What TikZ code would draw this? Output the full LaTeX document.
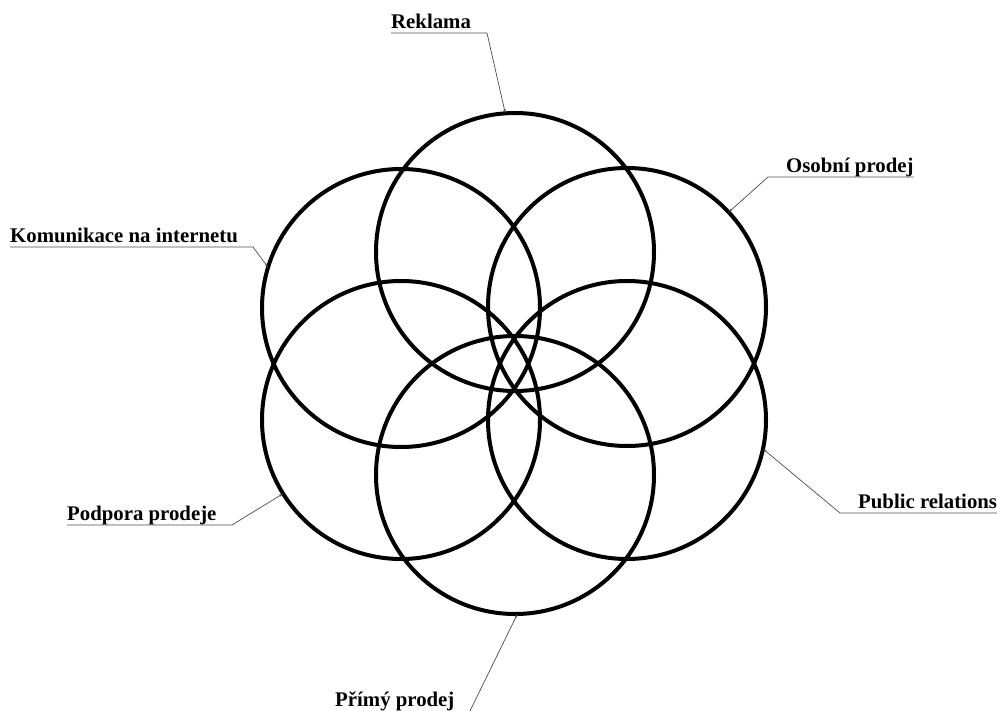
\documentclass[tikz,border=0pt]{standalone}
\usepackage{fontspec}
\setmainfont{Liberation Serif}
\usepackage{tikz}
\usetikzlibrary{arrows.meta, calc}

\begin{document}
\begin{tikzpicture}[x=1pt, y=-1pt,
  ring/.style={circle, draw=black, line width=4pt, minimum size=278pt, inner sep=0pt, outer sep=0pt},
  lbl/.style={font=\fontsize{20.8}{24}\selectfont\bfseries, inner sep=0pt},
  leader/.style={draw=black!70, line width=0.7pt, -{Stealth[length=4pt,width=2.4pt]}}]
  \useasboundingbox (0,0) rectangle (997,711);

  % Six circles
  \node[ring] (cR) at (515,252) {};
  \node[ring] (cO) at (627,307) {};
  \node[ring] (cP) at (627,420) {};
  \node[ring] (cM) at (515,475) {};
  \node[ring] (cS) at (401,420) {};
  \node[ring] (cK) at (401,308) {};

  % Labels
  \node[lbl, anchor=base west] (lR) at (391,29) {Reklama};
  \node[lbl, anchor=base west] (lO) at (786,173) {Osobní prodej};
  \node[lbl, anchor=base west] (lP) at (858,508) {Public relations};
  \node[lbl, anchor=base west] (lM) at (335,706) {Přímý prodej};
  \node[lbl, anchor=base west] (lS) at (67,521) {Podpora prodeje};
  \node[lbl, anchor=base west] (lK) at (10,243) {Komunikace na internetu};

  % Corners of the leader lines
  \coordinate (kR) at (487,33);
  \coordinate (kO) at (768,177);
  \coordinate (kP) at (840,513);
  \coordinate (kM) at (470,711);
  \coordinate (kS) at (232,525);
  \coordinate (kK) at (253,247);

  % Underlines and leaders
  \draw[leader] ($(lR.base west)+(0,4)$) -- (kR) -- (cR.94);
  \draw[leader] ($(lO.base east)+(0,4)$) -- (kO) -- (cO.43);
  \draw[leader] (997,513) -- (kP) -- (cP.-12);
  \draw[leader] (kM) -- (cM.-89);
  \draw[leader] ($(lS.base west)+(0,4)$) -- (kS) -- (cS.212);
  \draw[leader] ($(lK.base west)+(0,4)$) -- (kK) -- (cK.163);
\end{tikzpicture}
\end{document}
